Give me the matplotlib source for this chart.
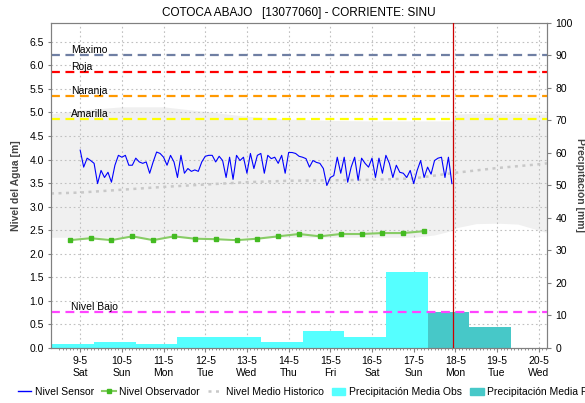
import numpy as np
import matplotlib
matplotlib.use("Agg")
import matplotlib.pyplot as plt
from matplotlib.lines import Line2D
from matplotlib.patches import Patch

plt.rcParams['font.family'] = ['Liberation Sans', 'DejaVu Sans']

# day ticks (May)
tick_days = list(range(9, 21))
tick_names = ['Sat', 'Sun', 'Mon', 'Tue', 'Wed', 'Thu', 'Fri', 'Sat', 'Sun', 'Mon', 'Tue', 'Wed']

# sensor level [m], every 2 hours from 9-5 00:00
sensor_level = [
    4.20, 3.84, 4.03, 3.98, 3.92, 3.49, 3.77, 3.62, 3.73, 3.52,
    3.88, 4.09, 4.05, 4.09, 3.88, 3.88, 4.03, 3.95, 3.92, 3.95,
    3.71, 3.95, 4.16, 4.13, 4.05, 3.88, 4.09, 3.95, 3.62, 4.09,
    3.71, 3.81, 3.75, 3.78, 3.75, 3.95, 4.07, 4.09, 4.09, 3.95,
    4.07, 3.98, 3.62, 4.05, 3.58, 4.09, 3.98, 4.05, 3.71, 4.13,
    3.81, 4.09, 4.13, 3.71, 4.09, 4.02, 4.05, 3.92, 4.09, 3.71,
    4.15, 4.15, 4.13, 4.07, 4.05, 4.02, 3.84, 3.98, 3.94, 3.92,
    3.81, 3.45, 3.62, 3.66, 4.05, 3.71, 4.05, 3.52, 3.84, 4.05,
    3.56, 4.03, 3.92, 3.84, 4.03, 3.62, 4.03, 3.71, 4.09, 3.92,
    3.62, 3.88, 3.73, 3.71, 3.62, 3.77, 3.49, 3.77, 3.98, 3.62,
    3.84, 3.69, 3.98, 4.03, 4.05, 3.62, 4.05, 3.49,
]
sensor_day = 9 + np.arange(len(sensor_level)) / 12.0

# observer readings
obs_day = [8.75, 9.25, 9.75, 10.25, 10.75, 11.25, 11.75, 12.25, 12.75,
           13.25, 13.75, 14.25, 14.75, 15.25, 15.75, 16.25, 16.75, 17.25]
obs_level = [2.29, 2.33, 2.29, 2.37, 2.29, 2.37, 2.32, 2.31, 2.29,
             2.32, 2.37, 2.42, 2.37, 2.42, 2.42, 2.44, 2.44, 2.48]

# historical mean and range
mean_day = [8.3, 9, 10, 11, 12, 13, 14, 15, 16, 17, 18, 19, 20, 20.2]
mean_level = [3.28, 3.30, 3.36, 3.42, 3.47, 3.52, 3.55, 3.56, 3.57, 3.60, 3.72, 3.82, 3.90, 3.92]

band_day = [8.3, 9, 10, 11, 12, 13, 14, 15, 16, 17, 17.5, 17.95, 18.0, 18.5, 19, 19.5, 20, 20.2]
band_hi = [4.97, 5.05, 5.12, 5.12, 5.02, 4.92, 4.86, 4.83, 4.82, 4.82, 4.82, 4.82,
           4.97, 4.98, 4.98, 4.98, 4.97, 4.97]
band_lo = [2.35, 2.35, 2.35, 2.35, 2.35, 2.35, 2.35, 2.35, 2.35, 2.35, 2.40, 2.50,
           2.55, 2.64, 2.65, 2.63, 2.50, 2.45]

# thresholds [m]
thr_names = ['Maximo', 'Roja', 'Naranja', 'Amarilla', 'Nivel Bajo']
thr_values = [6.22, 5.86, 5.35, 4.87, 0.76]
thr_colors = ['#6F7FA3', '#FF0000', '#FF9900', '#FFFF00', '#FF44FF']

# precipitation [mm], daily from 08:00
precip_obs_day = [7, 8, 9, 10, 11, 12, 13, 14, 15, 16]
precip_obs = [5.8, 1.2, 1.9, 1.2, 3.3, 3.3, 1.7, 5.3, 3.3, 23.5]
precip_fc_day = [17, 18]
precip_fc = [11.1, 6.5]

now_day = 17.94

fig = plt.figure(figsize=(5.85, 4.03), dpi=100)
ax1 = fig.add_axes([0.0872, 0.1365, 0.848, 0.8065])
ax2 = ax1.twinx()
ax1.set_zorder(2)
ax2.set_zorder(1)
ax1.patch.set_visible(False)
ax2.patch.set_visible(True)
ax2.patch.set_facecolor('white')

ax1.set_xlim(8.3, 20.2)
ax1.set_ylim(0, 6.9)
ax2.set_ylim(0, 100)

# background: band + grid + bars on the back axes
ax2.fill_between(band_day, band_lo, band_hi, transform=ax1.transData,
                 color='#F0F0F0', lw=0, zorder=0.2)
ax2.hlines(np.arange(0.5, 6.9, 0.5), 0, 1, transform=ax1.get_yaxis_transform(),
           colors='#C0C0C0', lw=0.8, linestyles=(0, (1.5, 2.5)), zorder=0.5)
ax2.vlines(tick_days, 0, 1, transform=ax2.get_xaxis_transform(),
           colors='#C0C0C0', lw=0.8, linestyles=(0, (1.5, 2.5)), zorder=0.5)
ax2.bar(np.array(precip_obs_day) + 8 / 24, precip_obs, width=1.0, align='edge',
        color='#55FFFF', lw=0, zorder=1)
ax2.bar(np.array(precip_fc_day) + 8 / 24, precip_fc, width=1.0, align='edge',
        color='#47C8C8', lw=0, zorder=1.1)

# thresholds
for name, val, col in zip(thr_names, thr_values, thr_colors):
    ax1.axhline(val, color=col, lw=1.6, ls=(0, (4, 2.5)), zorder=2)
    ax1.text(8.78, val + 0.1, name, fontsize=7.5, va='center', ha='left', zorder=3)

ax1.plot(mean_day, mean_level, color='#C8C8C8', lw=1.8, ls=(0, (1.2, 1.8)), zorder=2.5)
ax1.plot(obs_day, obs_level, color='#88CC66', lw=1.5, marker='s', ms=2.2,
         mfc='#44BB22', mec='#44BB22', zorder=3)
ax1.plot(sensor_day, sensor_level, color='#0000FF', lw=0.8, zorder=4)
ax1.axvline(now_day, color='#CC0000', lw=0.9, zorder=5)

# axes styling
ax1.set_xticks(tick_days)
ax1.set_xticklabels([f"{d}-5\n{n}" for d, n in zip(tick_days, tick_names)], fontsize=7.5)
ax1.set_xticks(np.arange(8.5, 20.2, 1 / 12), minor=True)
ax1.tick_params(axis='x', which='major', length=3, color='#808080', pad=3)
ax1.tick_params(axis='x', which='minor', length=1.5, color='#808080')
ax1.set_yticks(np.arange(0, 6.6, 0.5))
ax1.set_yticklabels([f"{v:.1f}" for v in np.arange(0, 6.6, 0.5)], fontsize=7.5)
ax1.tick_params(axis='y', length=2, color='#808080', pad=3)
ax2.set_yticks(range(0, 101, 10))
ax2.set_yticklabels([str(v) for v in range(0, 101, 10)], fontsize=7.5)
ax2.tick_params(axis='y', length=3, color='#808080', pad=3)

for a in (ax1, ax2):
    for s in a.spines.values():
        s.set_color('#808080')
        s.set_linewidth(0.8)

ax1.set_ylabel('Nivel del Agua [m]', fontsize=7.5, fontweight='bold', color='#444444', labelpad=6)
ax2.set_ylabel('Precipitación [mm]', fontsize=7.5, fontweight='bold', color='#444444',
               rotation=270, labelpad=9)

fig.text(0.51, 0.968, 'COTOCA ABAJO   [13077060] - CORRIENTE: SINU',
         fontsize=8.5, ha='center', va='center')

handles = [
    Line2D([], [], color='#0000FF', lw=1),
    Line2D([], [], color='#88CC66', lw=1.5, marker='s', ms=2.2, mfc='#44BB22', mec='#44BB22'),
    Line2D([], [], color='#C8C8C8', lw=1.8, ls=(0, (1.2, 1.8))),
    Patch(color='#55FFFF'),
    Patch(color='#47C8C8'),
]
labels = ['Nivel Sensor', 'Nivel Observador', 'Nivel Medio Historico',
          'Precipitación Media Obs', 'Precipitación Media Pronosticada']
fig.legend(handles, labels, loc='center left', bbox_to_anchor=(0.03, 0.027),
           ncol=5, frameon=False, fontsize=7.5, handlelength=1.3, handletextpad=0.35,
           columnspacing=0.8, borderpad=0, borderaxespad=0)

fig.savefig('out.png', dpi=100)
